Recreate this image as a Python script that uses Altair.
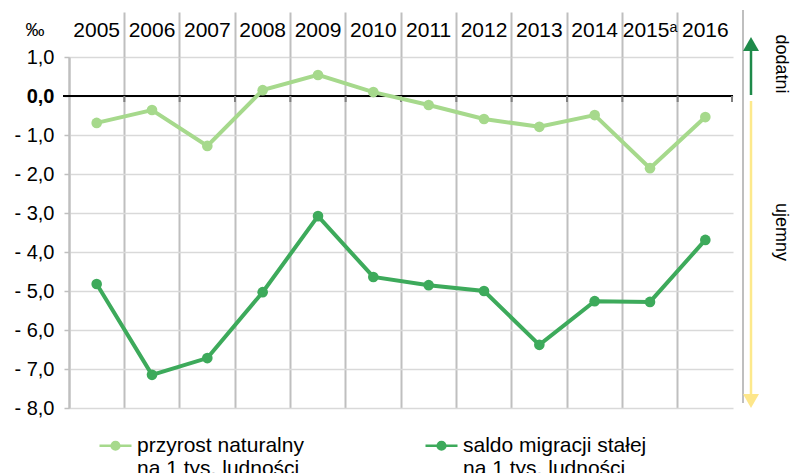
import altair as alt
import pandas as pd

years = ["2005", "2006", "2007", "2008", "2009", "2010", "2011", "2012", "2013", "2014", "2015ᵃ", "2016"]
przyrost = [-0.69, -0.36, -1.28, 0.15, 0.54, 0.10, -0.23, -0.59, -0.79, -0.49, -1.85, -0.54]
saldo = [-4.82, -7.15, -6.72, -5.03, -3.08, -4.64, -4.85, -5.00, -6.38, -5.26, -5.28, -3.69]
series = ["przyrost naturalny|na 1 tys. ludności", "saldo migracji stałej|na 1 tys. ludności"]
colors = ["#a6d98c", "#3daa5b"]
y_ticks = [1, 0, -1, -2, -3, -4, -5, -6, -7, -8]

df = pd.DataFrame({
    "rok": years * 2,
    "wartosc": przyrost + saldo,
    "seria": [series[0]] * 12 + [series[1]] * 12,
})

W, H = 664, 351
FONT = "Liberation Sans"

x_scale = alt.Scale(type="band", paddingInner=0, paddingOuter=0)
x_axis = alt.Axis(
    orient="top", title=None, bandPosition=0,
    grid=True, gridColor="#bfbfbf", gridWidth=2,
    tickSize=45, tickWidth=2,
    tickColor=alt.condition("datum.value == '2005'", alt.value("transparent"), alt.value("#bfbfbf")),
    domain=False, labelAngle=0, labelFontSize=21, labelColor="black",
    labelPadding=-24, labelBaseline="alphabetic", labelFont=FONT, labelOverlap=False,
)
y_scale = alt.Scale(domain=[-8, 1], nice=False, zero=False)
y_axis = alt.Axis(
    values=y_ticks, title=None,
    labelExpr="datum.value == 0 ? '0,0' : (datum.value < 0 ? '- ' : '') + replace(format(abs(datum.value), '.1f'), '.', ',')",
    labelFontWeight=alt.condition("datum.value == 0", alt.value("bold"), alt.value("normal")),
    gridColor="#d9d9d9", gridWidth=1.5,
    tickColor="#bfbfbf", tickSize=5, tickWidth=1.5,
    domainColor="#bfbfbf", domainWidth=2,
    labelFontSize=20, labelPadding=10, labelColor="black", labelFont=FONT,
    labelOverlap=False, labelFlush=False,
)
x_enc = alt.X("rok:N", sort=years, scale=x_scale, axis=x_axis)
y_enc = alt.Y("wartosc:Q", scale=y_scale, axis=y_axis)

legend_symbol = (
    "M-1,0H1"
    "M-0.24,0A0.24,0.24 0 1,1 0.24,0A0.24,0.24 0 1,1 -0.24,0Z"
    "M-0.16,0A0.16,0.16 0 1,1 0.16,0A0.16,0.16 0 1,1 -0.16,0Z"
    "M-0.08,0A0.08,0.08 0 1,1 0.08,0A0.08,0.08 0 1,1 -0.08,0Z"
)

lines = alt.Chart(df).mark_line(
    strokeWidth=4,
    point=alt.OverlayMarkDef(size=113, filled=True, opacity=1),
).encode(
    x=x_enc, y=y_enc,
    color=alt.Color(
        "seria:N",
        scale=alt.Scale(domain=series, range=colors),
        legend=alt.Legend(
            title=None, orient="none", legendX=29, legendY=371,
            direction="horizontal", columns=2, columnPadding=116,
            symbolType=legend_symbol, symbolSize=1024, symbolStrokeWidth=2.5,
            labelExpr="split(datum.label, '|')", labelFontSize=21, labelFont=FONT,
            labelColor="black", labelLimit=0, labelOffset=4, padding=0,
        ),
    ),
)

zero_df = pd.DataFrame({"wartosc": [0]})
zero_line = alt.Chart(zero_df).mark_rule(color="black", strokeWidth=2).encode(
    y=y_enc, x=alt.value(-6), x2=alt.value(W)
)

bound_df = pd.DataFrame({"rok": years[1:], "wartosc": [0] * 11})
zero_ticks = alt.Chart(bound_df).mark_rule(color="#7f7f7f", strokeWidth=2).encode(
    x=alt.X("rok:N", sort=years, scale=x_scale, axis=x_axis, bandPosition=0),
    y=y_enc, y2=alt.value(45),
)
end_tick = alt.Chart(zero_df).mark_rule(color="#7f7f7f", strokeWidth=2).encode(
    x=alt.value(W - 1), y=y_enc, y2=alt.value(45),
)

one = pd.DataFrame({"a": [0]})
right_line = alt.Chart(one).mark_rule(color="#bfbfbf", strokeWidth=2).encode(
    x=alt.value(674), y=alt.value(-47), y2=alt.value(346)
)
green_shaft = alt.Chart(one).mark_rule(color="#1e8a4a", strokeWidth=2.5).encode(
    x=alt.value(682), y=alt.value(-8), y2=alt.value(38)
)
green_head = alt.Chart(one).mark_point(shape="triangle-up", filled=True, size=256, color="#1e8a4a", opacity=1).encode(
    x=alt.value(682), y=alt.value(-13)
)
yellow_shaft = alt.Chart(one).mark_rule(color="#fde98c", strokeWidth=2.5).encode(
    x=alt.value(682), y=alt.value(44), y2=alt.value(340)
)
yellow_head = alt.Chart(one).mark_point(shape="triangle-down", filled=True, size=256, color="#fde68a", opacity=1).encode(
    x=alt.value(682), y=alt.value(344)
)
dodatni = alt.Chart(one).mark_text(angle=90, fontSize=18, font=FONT, color="black").encode(
    x=alt.value(712), y=alt.value(7), text=alt.value("dodatni")
)
ujemny = alt.Chart(one).mark_text(angle=90, fontSize=18, font=FONT, color="black").encode(
    x=alt.value(712), y=alt.value(175), text=alt.value("ujemny")
)
permille = alt.Chart(one).mark_text(fontSize=19, font=FONT, color="black").encode(
    x=alt.value(-34), y=alt.value(-27), text=alt.value("‰")
)

chart = alt.layer(
    zero_line, zero_ticks, end_tick, lines, right_line, green_shaft, green_head,
    yellow_shaft, yellow_head, dodatni, ujemny, permille,
).properties(
    width=W, height=H,
    autosize=alt.AutoSizeParams(type="none"),
    padding={"left": 61, "top": 49, "right": 58, "bottom": 72},
).configure(font=FONT).configure_view(stroke=None)

chart.save("out.html", embed_options={"renderer": "svg", "actions": False})
